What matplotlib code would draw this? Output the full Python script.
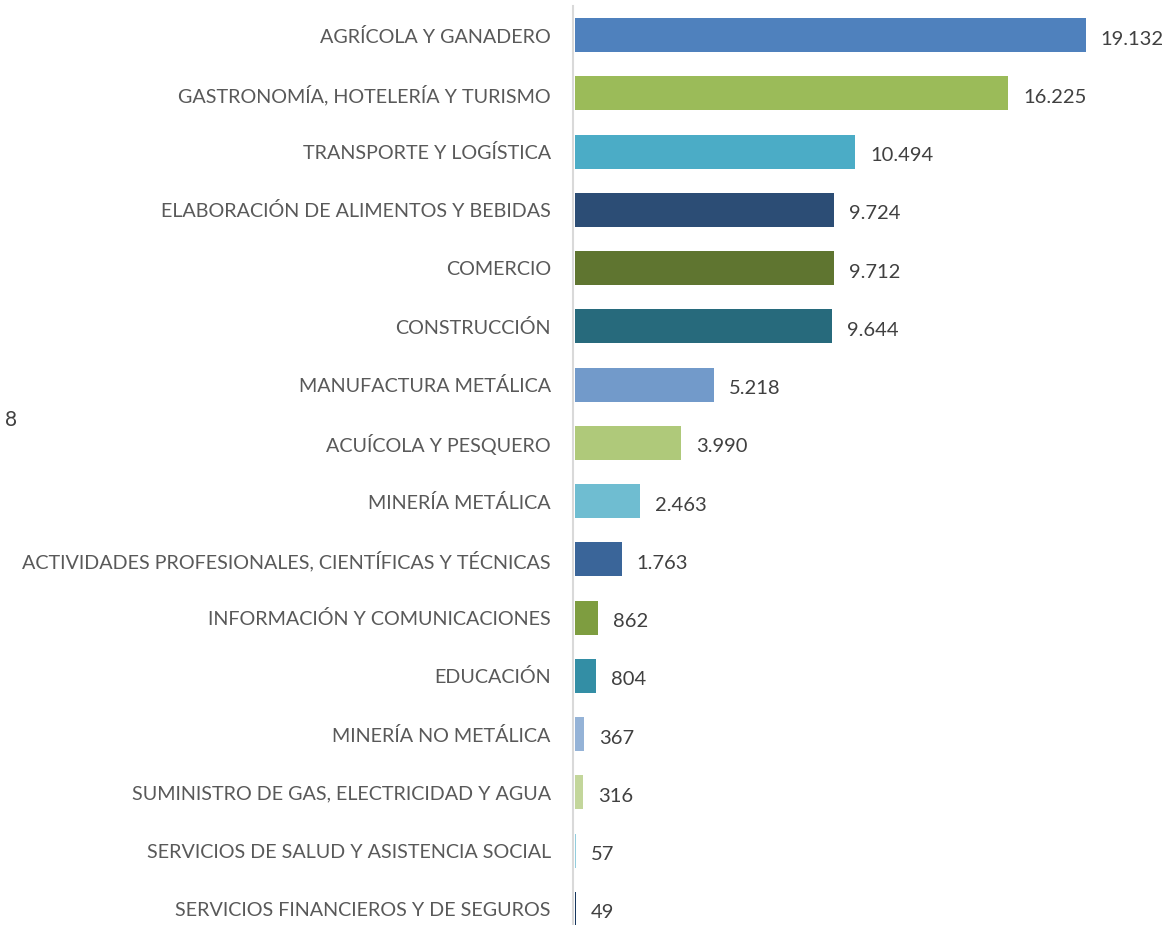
import matplotlib
matplotlib.use("Agg")
import matplotlib.pyplot as plt
from matplotlib.transforms import offset_copy

categories = [
    "AGRÍCOLA Y GANADERO",
    "GASTRONOMÍA, HOTELERÍA Y TURISMO",
    "TRANSPORTE Y LOGÍSTICA",
    "ELABORACIÓN DE ALIMENTOS Y BEBIDAS",
    "COMERCIO",
    "CONSTRUCCIÓN",
    "MANUFACTURA METÁLICA",
    "ACUÍCOLA Y PESQUERO",
    "MINERÍA METÁLICA",
    "ACTIVIDADES PROFESIONALES, CIENTÍFICAS Y TÉCNICAS",
    "INFORMACIÓN Y COMUNICACIONES",
    "EDUCACIÓN",
    "MINERÍA NO METÁLICA",
    "SUMINISTRO DE GAS, ELECTRICIDAD Y AGUA",
    "SERVICIOS DE SALUD Y ASISTENCIA SOCIAL",
    "SERVICIOS FINANCIEROS Y DE SEGUROS",
]
values = [19132, 16225, 10494, 9724, 9712, 9644, 5218, 3990, 2463, 1763, 862, 804, 367, 316, 57, 49]
value_labels = ["19.132", "16.225", "10.494", "9.724", "9.712", "9.644", "5.218", "3.990",
                "2.463", "1.763", "862", "804", "367", "316", "57", "49"]
colors = ["#4F81BD", "#9BBB59", "#4BACC6", "#2C4D75", "#5F7530", "#276A7C",
          "#729ACA", "#AFC97A", "#6FBDD1", "#3A6599", "#7E9D40", "#338EA5",
          "#95B3D7", "#C3D69B", "#93CDDD", "#17375E"]
side_label = "8"

W, H = 1168, 925
fig = plt.figure(figsize=(W / 100, H / 100), dpi=100)
ax = fig.add_axes([573 / W, (H - 938) / H, (W - 573) / W, (938 - 6) / H])

y = list(range(len(categories)))
ax.barh(y, values, height=0.58, color=colors, zorder=3)
ax.set_ylim(len(categories) - 0.5, -0.5)
ax.set_xlim(-60, 22216)

ax.set_yticks(y)
ax.set_yticklabels(categories, fontfamily="Lato", fontsize=14.2, color="#595959")
ax.tick_params(axis="y", length=0, pad=16)
ax.set_xticks([])
for s in ["top", "right", "bottom"]:
    ax.spines[s].set_visible(False)
ax.spines["left"].set_color("#D9D9D9")
ax.spines["left"].set_linewidth(1.5)

for yi, v, lab in zip(y, values, value_labels):
    tr = offset_copy(ax.transData, fig=fig, x=15, y=-4, units="dots")
    ax.text(v, yi, lab, transform=tr, ha="left", va="center",
            fontfamily="Lato", fontsize=14.5, color="#404040")

fig.text(5 / W, 1 - 420 / H, side_label, fontfamily="Lato", fontsize=15,
         color="#404040", ha="left", va="center")

fig.savefig("out.png", dpi=100)
